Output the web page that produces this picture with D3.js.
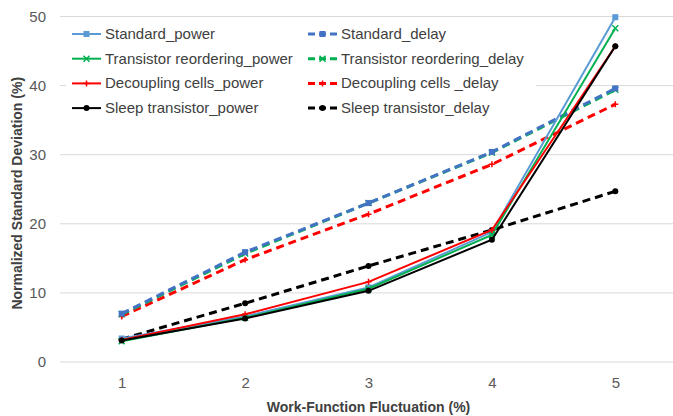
<!DOCTYPE html>
<html lang="en">
<head>
<meta charset="utf-8">
<title>Normalized standard deviation</title>
<script src="https://cdn.jsdelivr.net/npm/d3@7"></script>
<style>
  body { margin: 0; background: #fff; }
  text { font-family: "Liberation Sans", Arial, sans-serif; }
</style>
</head>
<body>
<script>
/* data */
var xCats = [1, 2, 3, 4, 5];
var yTicks = [0, 10, 20, 30, 40, 50];

var stdPower   = [3.4, 6.6, 10.8, 18.8, 49.9];
var stdDelay   = [7.0, 15.9, 23.0, 30.4, 39.6];
var trPower    = [3.0, 6.4, 10.6, 18.4, 48.3];
var trDelay    = [6.9, 15.7, 23.0, 30.3, 39.4];
var dcPower    = [3.2, 6.9, 11.6, 19.1, 45.7];
var dcDelay    = [6.6, 14.8, 21.4, 28.6, 37.3];
var stPower    = [3.1, 6.3, 10.3, 17.7, 45.7];
var stDelay    = [3.3, 8.5, 13.9, 19.1, 24.7];

var series = [
  {name: "Standard_power", values: stdPower, color: "#5B9BD5", dash: false, marker: "square"},
  {name: "Standard_delay", values: stdDelay, color: "#4472C4", dash: true, marker: "square"},
  {name: "Transistor reordering_power", values: trPower, color: "#00B050", dash: false, marker: "x"},
  {name: "Transistor reordering_delay", values: trDelay, color: "#00B050", dash: true, marker: "x"},
  {name: "Decoupling cells_power", values: dcPower, color: "#FF0000", dash: false, marker: "plus"},
  {name: "Decoupling cells _delay", values: dcDelay, color: "#FF0000", dash: true, marker: "plus"},
  {name: "Sleep transistor_power", values: stPower, color: "#000000", dash: false, marker: "circle"},
  {name: "Sleep transistor_delay", values: stDelay, color: "#000000", dash: true, marker: "circle"}
];

var w = 673, h = 416;
var plotLeft = 60, plotRight = 677, plotTop = 16.5, plotBottom = 362;

var svg = d3.select("body").append("svg")
  .attr("width", w).attr("height", h);

var xScale = d3.scalePoint().domain(xCats).range([plotLeft, plotRight]).padding(0.5);
var yScale = d3.scaleLinear().domain([0, 50]).range([plotBottom, plotTop]);

// gridlines
svg.append("g").selectAll("line")
  .data(yTicks).enter().append("line")
  .attr("x1", plotLeft).attr("x2", plotRight)
  .attr("y1", function(d) { return yScale(d); })
  .attr("y2", function(d) { return yScale(d); })
  .attr("stroke", "#d9d9d9").attr("stroke-width", 1);

// y axis labels
var yAxis = d3.axisLeft(yScale).tickValues(yTicks).tickSize(0).tickPadding(10);
var gy = svg.append("g").attr("transform", "translate(" + (plotLeft - 4) + ",0)").call(yAxis);
gy.select(".domain").remove();
gy.selectAll("text").attr("fill", "#595959").style("font-size", "15px")
  .style("font-family", "'Liberation Sans', Arial, sans-serif");

// x axis labels
var xAxis = d3.axisBottom(xScale).tickSize(0).tickPadding(15);
var gx = svg.append("g").attr("transform", "translate(0," + plotBottom + ")").call(xAxis);
gx.select(".domain").remove();
gx.selectAll("text").attr("fill", "#595959").style("font-size", "15px")
  .style("font-family", "'Liberation Sans', Arial, sans-serif");

// axis titles
svg.append("text")
  .attr("x", xScale(3)).attr("y", 412)
  .attr("text-anchor", "middle")
  .attr("font-weight", "bold").attr("font-size", "14px").attr("fill", "#404040")
  .text("Work-Function Fluctuation (%)");

svg.append("text")
  .attr("transform", "translate(22," + ((plotTop + plotBottom) / 2 + 4) + ") rotate(-90)")
  .attr("text-anchor", "middle")
  .attr("font-weight", "bold").attr("font-size", "14px").attr("fill", "#404040")
  .text("Normalized Standard Deviation (%)");

function drawMarker(g, type, color, x, y) {
  if (type === "square") {
    g.append("rect").attr("x", x - 3).attr("y", y - 3).attr("width", 6).attr("height", 6)
      .attr("fill", color);
  } else if (type === "circle") {
    g.append("circle").attr("cx", x).attr("cy", y).attr("r", 3).attr("fill", color);
  } else if (type === "x") {
    g.append("path").attr("d", "M" + (x - 3) + "," + (y - 3) + "L" + (x + 3) + "," + (y + 3) +
        "M" + (x - 3) + "," + (y + 3) + "L" + (x + 3) + "," + (y - 3))
      .attr("stroke", color).attr("stroke-width", 1.5);
  } else {
    g.append("path").attr("d", "M" + (x - 3) + "," + y + "L" + (x + 3) + "," + y +
        "M" + x + "," + (y - 3) + "L" + x + "," + (y + 3))
      .attr("stroke", color).attr("stroke-width", 1.5);
  }
}

var line = d3.line()
  .x(function(d, i) { return xScale(xCats[i]); })
  .y(function(d) { return yScale(d); });

// draw order: delays underneath
var order = [7, 5, 3, 1, 0, 2, 4, 6];
order.forEach(function(k) {
  var s = series[k];
  var g = svg.append("g");
  g.append("path").datum(s.values)
    .attr("d", line)
    .attr("fill", "none")
    .attr("stroke", s.color)
    .attr("stroke-width", s.dash ? 3 : 2)
    .attr("stroke-dasharray", s.dash ? "8,5" : null);
  s.values.forEach(function(v, i) {
    drawMarker(g, s.marker, s.color, xScale(xCats[i]), yScale(v));
  });
});

// legend
var legend = svg.append("g");
legend.append("rect").attr("x", 66).attr("y", 22).attr("width", 470).attr("height", 98)
  .attr("fill", "#fff");
series.forEach(function(s, i) {
  var col = i % 2, row = Math.floor(i / 2);
  var lx = col === 0 ? 72 : 308;
  var ly = 34 + row * 24.7;
  var g = legend.append("g");
  g.append("line").attr("x1", lx).attr("x2", lx + 29).attr("y1", ly).attr("y2", ly)
    .attr("stroke", s.color).attr("stroke-width", s.dash ? 3 : 2)
    .attr("stroke-dasharray", s.dash ? "7,4" : null);
  drawMarker(g, s.marker, s.color, lx + 14.5, ly);
  g.append("text").attr("x", lx + 33).attr("y", ly + 5)
    .attr("font-size", "15px").attr("fill", "#404040")
    .text(s.name);
});
</script>
</body>
</html>
